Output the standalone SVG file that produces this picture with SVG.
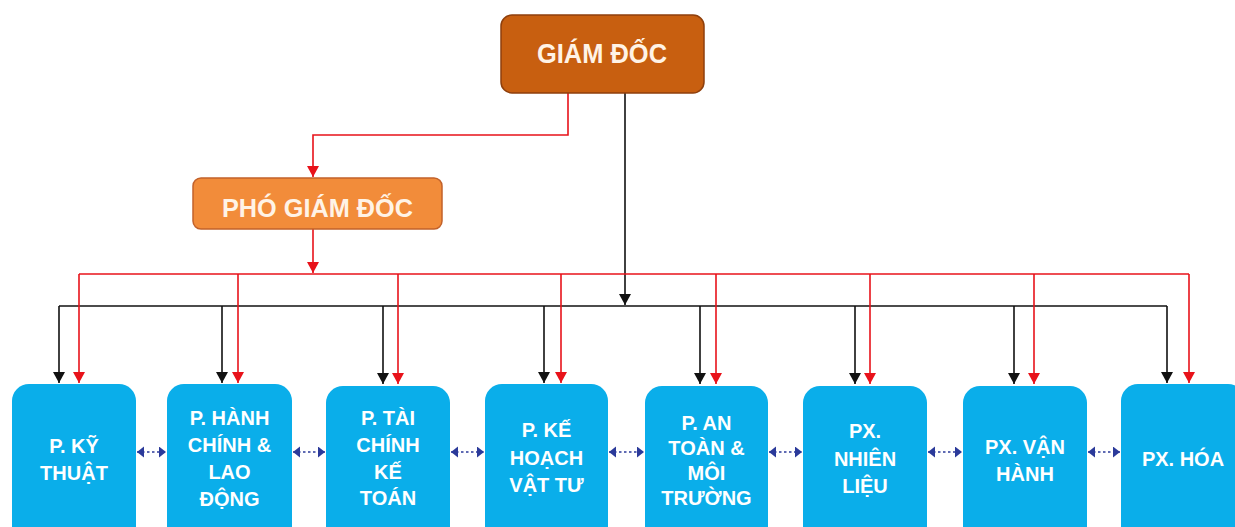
<svg xmlns="http://www.w3.org/2000/svg" width="1235" height="527" viewBox="0 0 1235 527">
<style>
.box{fill:#0AAEEA;}
.bt{font-family:"Liberation Sans",Arial,sans-serif;font-weight:bold;font-size:20px;fill:#fff;text-anchor:middle;}
.top{font-family:"Liberation Sans",Arial,sans-serif;font-weight:bold;fill:#FFF3E6;text-anchor:middle;}
.red{stroke:#E8121A;stroke-width:1.6;fill:none;}
.blk{stroke:#111;stroke-width:1.6;fill:none;}
.dot{stroke:#2B3A9A;stroke-width:1.4;stroke-dasharray:2.5,2.5;fill:none;}
</style>
<defs>
<marker id="ar" markerUnits="userSpaceOnUse" markerWidth="12" markerHeight="14" refX="11" refY="6" orient="auto">
<path d="M0,0 L11,6 L0,12 Z" fill="#E8121A"/>
</marker>
<marker id="ab" markerUnits="userSpaceOnUse" markerWidth="12" markerHeight="14" refX="11" refY="6" orient="auto">
<path d="M0,0 L11,6 L0,12 Z" fill="#111"/>
</marker>
<marker id="ad" markerUnits="userSpaceOnUse" markerWidth="9" markerHeight="12" refX="7" refY="5.5" orient="auto-start-reverse">
<path d="M0,0 L7,5.5 L0,11 Z" fill="#2B3A9A"/>
</marker>
</defs>

<g id="connectors">
<path class="red" d="M568,93 V135 H313 V177" marker-end="url(#ar)"/>
<path class="red" d="M313,229 V273" marker-end="url(#ar)"/>
<path class="blk" d="M625,93 V305" marker-end="url(#ab)"/>
<path class="red" d="M79,274 H1189"/>
<path class="blk" d="M59,306 H1167"/>
<path class="red" d="M79,274 V383" marker-end="url(#ar)"/>
<path class="red" d="M238,274 V383" marker-end="url(#ar)"/>
<path class="red" d="M398,274 V384" marker-end="url(#ar)"/>
<path class="red" d="M561,274 V383" marker-end="url(#ar)"/>
<path class="red" d="M716,274 V384" marker-end="url(#ar)"/>
<path class="red" d="M870,274 V384" marker-end="url(#ar)"/>
<path class="red" d="M1034,274 V384" marker-end="url(#ar)"/>
<path class="red" d="M1189,274 V383" marker-end="url(#ar)"/>
<path class="blk" d="M59,306 V383" marker-end="url(#ab)"/>
<path class="blk" d="M222,306 V383" marker-end="url(#ab)"/>
<path class="blk" d="M383,306 V384" marker-end="url(#ab)"/>
<path class="blk" d="M544,306 V383" marker-end="url(#ab)"/>
<path class="blk" d="M700,306 V384" marker-end="url(#ab)"/>
<path class="blk" d="M855,306 V384" marker-end="url(#ab)"/>
<path class="blk" d="M1014,306 V384" marker-end="url(#ab)"/>
<path class="blk" d="M1167,306 V383" marker-end="url(#ab)"/>
<path class="dot" d="M137,452 H166" marker-start="url(#ad)" marker-end="url(#ad)"/>
<path class="dot" d="M293,452 H325" marker-start="url(#ad)" marker-end="url(#ad)"/>
<path class="dot" d="M451,452 H484" marker-start="url(#ad)" marker-end="url(#ad)"/>
<path class="dot" d="M609,452 H644" marker-start="url(#ad)" marker-end="url(#ad)"/>
<path class="dot" d="M769,452 H802" marker-start="url(#ad)" marker-end="url(#ad)"/>
<path class="dot" d="M928,452 H962" marker-start="url(#ad)" marker-end="url(#ad)"/>
<path class="dot" d="M1088,452 H1120" marker-start="url(#ad)" marker-end="url(#ad)"/>
</g>

<g id="giam-doc">
<rect x="501" y="15" width="203" height="78" rx="11" fill="#C85F10" stroke="#8E3F0C" stroke-width="1.5"/>
<text class="top" x="602" y="63" font-size="28" textLength="130" lengthAdjust="spacingAndGlyphs">GIÁM ĐỐC</text>
</g>

<g id="pho-giam-doc">
<rect x="193" y="178" width="249" height="51" rx="8" fill="#F28C3A" stroke="#C2612A" stroke-width="1.5"/>
<text class="top" x="317.5" y="217" font-size="25" textLength="191" lengthAdjust="spacingAndGlyphs">PHÓ GIÁM ĐỐC</text>
</g>

<g id="p-ky-thuat">
<rect class="box" x="12" y="384" width="124" height="160" rx="17"/>
<text class="bt" x="74" y="453">P. KỸ</text>
<text class="bt" x="74" y="480">THUẬT</text>
</g>

<g id="p-hanh-chinh">
<rect class="box" x="167" y="384" width="125" height="160" rx="17"/>
<text class="bt" x="229.5" y="425">P. HÀNH</text>
<text class="bt" x="229.5" y="452">CHÍNH &amp;</text>
<text class="bt" x="229.5" y="479">LAO</text>
<text class="bt" x="229.5" y="506">ĐỘNG</text>
</g>

<g id="p-tai-chinh">
<rect class="box" x="326" y="386" width="124" height="160" rx="17"/>
<text class="bt" x="388" y="425">P. TÀI</text>
<text class="bt" x="388" y="452">CHÍNH</text>
<text class="bt" x="388" y="479">KẾ</text>
<text class="bt" x="388" y="505">TOÁN</text>
</g>

<g id="p-ke-hoach">
<rect class="box" x="485" y="384" width="123" height="160" rx="17"/>
<text class="bt" x="546.5" y="437">P. KẾ</text>
<text class="bt" x="546.5" y="465">HOẠCH</text>
<text class="bt" x="546.5" y="492">VẬT TƯ</text>
</g>

<g id="p-an-toan">
<rect class="box" x="645" y="386" width="123" height="160" rx="17"/>
<text class="bt" x="706.5" y="430">P. AN</text>
<text class="bt" x="706.5" y="455">TOÀN &amp;</text>
<text class="bt" x="706.5" y="480">MÔI</text>
<text class="bt" x="706.5" y="505">TRƯỜNG</text>
</g>

<g id="px-nhien-lieu">
<rect class="box" x="803" y="386" width="124" height="160" rx="17"/>
<text class="bt" x="865" y="438">PX.</text>
<text class="bt" x="865" y="466">NHIÊN</text>
<text class="bt" x="865" y="493">LIỆU</text>
</g>

<g id="px-van-hanh">
<rect class="box" x="963" y="386" width="124" height="160" rx="17"/>
<text class="bt" x="1025" y="454">PX. VẬN</text>
<text class="bt" x="1025" y="481">HÀNH</text>
</g>

<g id="px-hoa">
<rect class="box" x="1121" y="384" width="124" height="160" rx="17"/>
<text class="bt" x="1183" y="466">PX. HÓA</text>
</g>
</svg>
